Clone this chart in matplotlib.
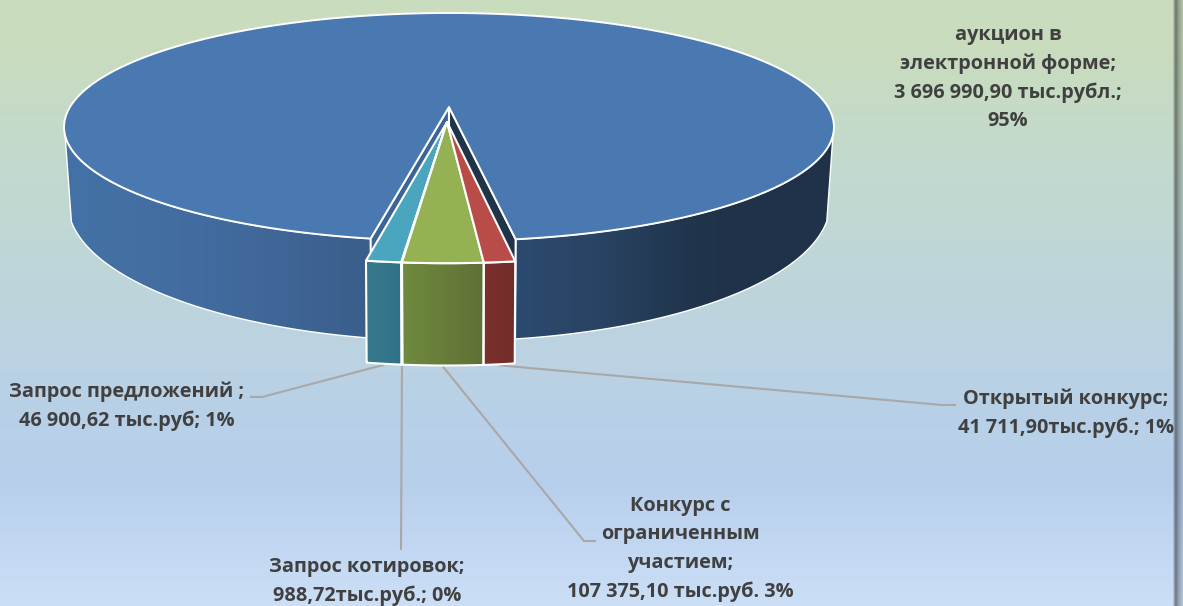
import numpy as np
import matplotlib
matplotlib.use("Agg")
import matplotlib.pyplot as plt
from matplotlib.colors import LinearSegmentedColormap
from matplotlib.patches import Polygon

# Данные
labels = ["Запрос предложений ;\n46 900,62 тыс.руб; 1%",
          "Запрос котировок;\n988,72тыс.руб.; 0%",
          "Конкурс с\nограниченным\nучастием;\n107 375,10 тыс.руб. 3%",
          "Открытый конкурс;\n41 711,90тыс.руб.; 1%",
          "аукцион в\nэлектронной форме;\n3 696 990,90 тыс.рубл.;\n95%"]
values = [46900.62, 988.72, 107375.10, 41711.90, 3696990.90]
top_colors = ["#4aa5be", "#7f63a1", "#94b254", "#b94c48", "#4a79b2"]
side_left = ["#38798d", "#5e4a78", "#6f8a3f", "#7c302d"]
side_right = ["#2f7288", "#5e4a78", "#607035", "#722d2b"]
wall_stops = [(0.0, "#4472a6"), (0.18, "#426c9f"), (0.4, "#3b5e8b"), (0.59, "#2b4a70"),
              (0.7, "#294362"), (0.83, "#1f3349"), (1.0, "#1f3249")]

# Параметры перспективы
W, H = 1183, 606
cx, y0 = 449, 107
R, A, k = 379, 110.5, 0.1754
y0_low, A_low, x_low = 178.8, 133.8, 0.99
depth = 82
expl_u, expl_v = -0.005, 0.1326
start = np.radians(-9.85)

plt.rcParams["font.family"] = ["Open Sans", "DejaVu Sans"]
fig = plt.figure(figsize=(W / 100, H / 100), dpi=100)
ax = fig.add_axes([0, 0, 1, 1])
ax.axis("off")


def project(u, v):
    w = 1 - k * v
    return cx + R * u / w, y0 + A * v / w


def project_low(u, v):
    # нижняя плоскость большого сектора
    w = 1 - k * v
    return cx + x_low * R * u / w, y0_low + A_low * v / w


def project_small(u, v):
    # нижняя кромка выдвинутых секторов
    w = 1 - k * v
    return cx + 0.992 * R * u / w, y0 + A * v / w + depth / w


def rim(a1, a2, du=0.0, dv=0.0, func=project, n=200):
    t = np.linspace(a1, a2, n)
    return func(np.sin(t) + du, np.cos(t) + dv)


def grad_poly(xs, ys, colors, zorder, lw):
    # заливка с горизонтальным градиентом
    cmap = LinearSegmentedColormap.from_list("g", colors)
    im = ax.imshow(np.linspace(0, 1, 256)[None, :], cmap=cmap, aspect="auto",
                   extent=[xs.min(), xs.max(), ys.max(), ys.min()], zorder=zorder)
    poly = Polygon(np.column_stack([xs, ys]), closed=True, fc="none", ec="white", lw=lw,
                   zorder=zorder + 0.1, joinstyle="round")
    ax.add_patch(poly)
    im.set_clip_path(poly)


# Фон
bg_stops = [(0.0, "#c9dcbd"), (0.08, "#c9dcbe"), (0.3, "#c2d9d0"), (0.66, "#b9d1e6"),
            (0.8, "#b8cfec"), (1.0, "#cbdff6")]
ax.imshow(np.linspace(0, 1, 256)[:, None], cmap=LinearSegmentedColormap.from_list("bg", bg_stops),
          aspect="auto", extent=[0, W, H, 0], zorder=0)
# полоса справа
band = np.zeros((1, 10, 4))
band[0, :, 3] = [0.12, 0.28, 0.42, 0.42, 0.34, 0.28, 0.24, 0.2, 0.16, 0.12]
ax.imshow(band, aspect="auto", extent=[1173, W, H, 0], zorder=0.5, interpolation="bilinear")

# Углы секторов
fr = np.array(values) / sum(values) * 2 * np.pi
edges = start + np.concatenate([[0], np.cumsum(fr)])

# Большой сектор: внешняя стенка
a1, a2 = edges[4], edges[5]
tx, ty = rim(a1, a2, n=800)
bx, by = rim(a1, a2, func=project_low, n=800)
t = np.linspace(a1, a2, 800)
vis_top = (np.cos(t) > k) & (ty >= 135)
vis_low = by >= 221
x_min, x_max = tx[vis_top].min(), tx[vis_top].max()
wall = LinearSegmentedColormap.from_list("wall", wall_stops)
for sgn in (-1, 1):
    side = np.sign(np.sin(t)) == sgn
    xs = np.r_[tx[vis_top & side], bx[vis_low & side][::-1]]
    ys = np.r_[ty[vis_top & side], by[vis_low & side][::-1]]
    p = np.linspace(*np.interp([xs.min(), xs.max()], [x_min, x_max], [0, 1]), 12)
    grad_poly(xs, ys, [wall(q) for q in p], 1, 1.0)

# Срезы большого сектора
apex = project(0, 0)
apex_low = project_low(0, 0)
for ang, col in ((a2, "#3b6596"), (a1, "#1f3349")):
    ax.add_patch(Polygon([apex, project(np.sin(ang), np.cos(ang)),
                          project_low(np.sin(ang), np.cos(ang)), apex_low],
                         closed=True, fc=col, ec="white", lw=1.5, zorder=2))

# Верх большого сектора
ax.add_patch(Polygon(np.r_[np.column_stack([tx, ty]), [apex]], closed=True, fc=top_colors[4],
                     ec="white", lw=1.4, zorder=3, joinstyle="round"))

# Малые сектора
for i in range(4):
    s1, s2 = edges[i], edges[i + 1]
    sx, sy = rim(s1, s2, expl_u, expl_v, n=30)
    lx, ly = rim(s1, s2, expl_u, expl_v, func=project_small, n=30)
    grad_poly(np.r_[sx, lx[::-1]], np.r_[sy, ly[::-1]], [side_left[i], side_right[i]], 4, 1.5)
    c = project(expl_u, expl_v)
    ax.add_patch(Polygon(np.r_[np.column_stack([sx, sy]), [c]], closed=True, fc=top_colors[i],
                         ec="white", lw=1.5, zorder=5, joinstyle="round"))

# Выноски
leaders = [[(262, 397), (250, 397)], [(401, 550)], [(584, 541), (596, 541)], [(942, 405), (956, 405)]]
for i, rest in enumerate(leaders):
    m = (edges[i] + edges[i + 1]) / 2
    px, py = project_small(np.sin(m) + expl_u, np.cos(m) + expl_v)
    ax.plot(*zip(*([(px, py + 1)] + rest)), color="#a8a8a8", lw=1.5, zorder=3.5,
            solid_capstyle="butt")

# Подписи
text_kw = dict(ha="center", va="center", fontsize=14.3, fontweight="bold", color="#404040",
               linespacing=1.56, zorder=6)
ax.text(127, 406.5, labels[0], **text_kw)
ax.text(367, 581.5, labels[1], **text_kw)
ax.text(680, 549, labels[2], **text_kw)
ax.text(1066, 413.5, labels[3], **text_kw)
ax.text(1008, 78, labels[4], **text_kw)

ax.set_xlim(0, W)
ax.set_ylim(H, 0)
fig.savefig("out.png", dpi=100)
